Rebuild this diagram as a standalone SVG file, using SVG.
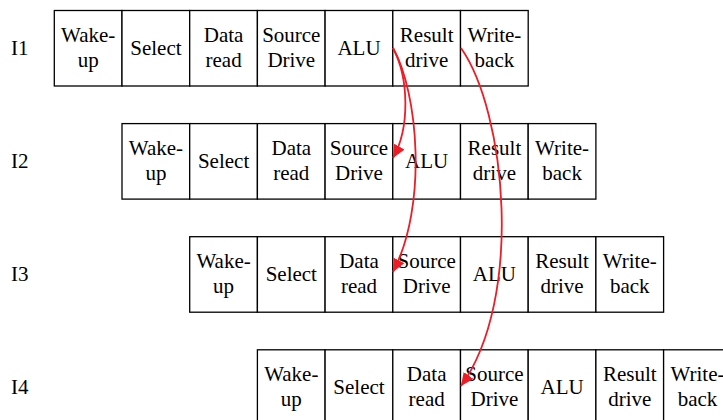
<svg xmlns="http://www.w3.org/2000/svg" width="723" height="420" viewBox="0 0 723 420">
<defs>
<style>
.box{fill:#fff;stroke:#000;stroke-width:1.3}
.t{font-family:'Liberation Serif','DejaVu Serif',serif;font-size:21px;fill:#000;text-anchor:middle}
.lbl{font-family:'Liberation Serif','DejaVu Serif',serif;font-size:21px;fill:#000}
.arr{fill:none;stroke:#ee1c25;stroke-width:1.8}
</style>
<marker id="ah" markerUnits="userSpaceOnUse" markerWidth="14" markerHeight="12" refX="13" refY="6" orient="auto">
<path d="M0,0 L13,6 L0,12 Z" fill="#ee1c25"/>
</marker>
</defs>
<rect width="723" height="420" fill="#fff"/>

<g id="row1" font-family="Liberation Serif, DejaVu Serif, serif">
<text class="lbl" x="11" y="55">I1</text>
<g id="r1s1"><rect class="box" x="54.3" y="10.5" width="67.7" height="75.5"/><text class="t" x="88.2" y="42">Wake-</text><text class="t" x="88.2" y="67">up</text></g>
<g id="r1s2"><rect class="box" x="122" y="10.5" width="67.7" height="75.5"/><text class="t" x="155.9" y="55">Select</text></g>
<g id="r1s3"><rect class="box" x="189.7" y="10.5" width="67.7" height="75.5"/><text class="t" x="223.6" y="42">Data</text><text class="t" x="223.6" y="67">read</text></g>
<g id="r1s4"><rect class="box" x="257.4" y="10.5" width="67.7" height="75.5"/><text class="t" x="291.3" y="42">Source</text><text class="t" x="291.3" y="67">Drive</text></g>
<g id="r1s5"><rect class="box" x="325.1" y="10.5" width="67.7" height="75.5"/><text class="t" x="359" y="55">ALU</text></g>
<g id="r1s6"><rect class="box" x="392.8" y="10.5" width="67.7" height="75.5"/><text class="t" x="426.7" y="42">Result</text><text class="t" x="426.7" y="67">drive</text></g>
<g id="r1s7"><rect class="box" x="460.5" y="10.5" width="67.7" height="75.5"/><text class="t" x="494.4" y="42">Write-</text><text class="t" x="494.4" y="67">back</text></g>
</g>

<g id="row2" transform="translate(67.7,113.1)">
<text class="lbl" x="-56.7" y="55">I2</text>
<g id="r2s1"><rect class="box" x="54.3" y="10.5" width="67.7" height="75.5"/><text class="t" x="88.2" y="42">Wake-</text><text class="t" x="88.2" y="67">up</text></g>
<g id="r2s2"><rect class="box" x="122" y="10.5" width="67.7" height="75.5"/><text class="t" x="155.9" y="55">Select</text></g>
<g id="r2s3"><rect class="box" x="189.7" y="10.5" width="67.7" height="75.5"/><text class="t" x="223.6" y="42">Data</text><text class="t" x="223.6" y="67">read</text></g>
<g id="r2s4"><rect class="box" x="257.4" y="10.5" width="67.7" height="75.5"/><text class="t" x="291.3" y="42">Source</text><text class="t" x="291.3" y="67">Drive</text></g>
<g id="r2s5"><rect class="box" x="325.1" y="10.5" width="67.7" height="75.5"/><text class="t" x="359" y="55">ALU</text></g>
<g id="r2s6"><rect class="box" x="392.8" y="10.5" width="67.7" height="75.5"/><text class="t" x="426.7" y="42">Result</text><text class="t" x="426.7" y="67">drive</text></g>
<g id="r2s7"><rect class="box" x="460.5" y="10.5" width="67.7" height="75.5"/><text class="t" x="494.4" y="42">Write-</text><text class="t" x="494.4" y="67">back</text></g>
</g>

<g id="row3" transform="translate(135.4,226.2)">
<text class="lbl" x="-124.4" y="55">I3</text>
<g id="r3s1"><rect class="box" x="54.3" y="10.5" width="67.7" height="75.5"/><text class="t" x="88.2" y="42">Wake-</text><text class="t" x="88.2" y="67">up</text></g>
<g id="r3s2"><rect class="box" x="122" y="10.5" width="67.7" height="75.5"/><text class="t" x="155.9" y="55">Select</text></g>
<g id="r3s3"><rect class="box" x="189.7" y="10.5" width="67.7" height="75.5"/><text class="t" x="223.6" y="42">Data</text><text class="t" x="223.6" y="67">read</text></g>
<g id="r3s4"><rect class="box" x="257.4" y="10.5" width="67.7" height="75.5"/><text class="t" x="291.3" y="42">Source</text><text class="t" x="291.3" y="67">Drive</text></g>
<g id="r3s5"><rect class="box" x="325.1" y="10.5" width="67.7" height="75.5"/><text class="t" x="359" y="55">ALU</text></g>
<g id="r3s6"><rect class="box" x="392.8" y="10.5" width="67.7" height="75.5"/><text class="t" x="426.7" y="42">Result</text><text class="t" x="426.7" y="67">drive</text></g>
<g id="r3s7"><rect class="box" x="460.5" y="10.5" width="67.7" height="75.5"/><text class="t" x="494.4" y="42">Write-</text><text class="t" x="494.4" y="67">back</text></g>
</g>

<g id="row4" transform="translate(203.1,339.3)">
<text class="lbl" x="-192.1" y="55">I4</text>
<g id="r4s1"><rect class="box" x="54.3" y="10.5" width="67.7" height="75.5"/><text class="t" x="88.2" y="42">Wake-</text><text class="t" x="88.2" y="67">up</text></g>
<g id="r4s2"><rect class="box" x="122" y="10.5" width="67.7" height="75.5"/><text class="t" x="155.9" y="55">Select</text></g>
<g id="r4s3"><rect class="box" x="189.7" y="10.5" width="67.7" height="75.5"/><text class="t" x="223.6" y="42">Data</text><text class="t" x="223.6" y="67">read</text></g>
<g id="r4s4"><rect class="box" x="257.4" y="10.5" width="67.7" height="75.5"/><text class="t" x="291.3" y="42">Source</text><text class="t" x="291.3" y="67">Drive</text></g>
<g id="r4s5"><rect class="box" x="325.1" y="10.5" width="67.7" height="75.5"/><text class="t" x="359" y="55">ALU</text></g>
<g id="r4s6"><rect class="box" x="392.8" y="10.5" width="67.7" height="75.5"/><text class="t" x="426.7" y="42">Result</text><text class="t" x="426.7" y="67">drive</text></g>
<g id="r4s7"><rect class="box" x="460.5" y="10.5" width="67.7" height="75.5"/><text class="t" x="494.4" y="42">Write-</text><text class="t" x="494.4" y="67">back</text></g>
</g>

<g id="connectors">
<path class="arr" d="M393,48 C409,78 410,128 393,158" marker-end="url(#ah)"/>
<path class="arr" d="M393,48 C418,92 428,205 393,272" marker-end="url(#ah)"/>
<path class="arr" d="M461,48 C506,112 524,298 461,386" marker-end="url(#ah)"/>
</g>
</svg>
